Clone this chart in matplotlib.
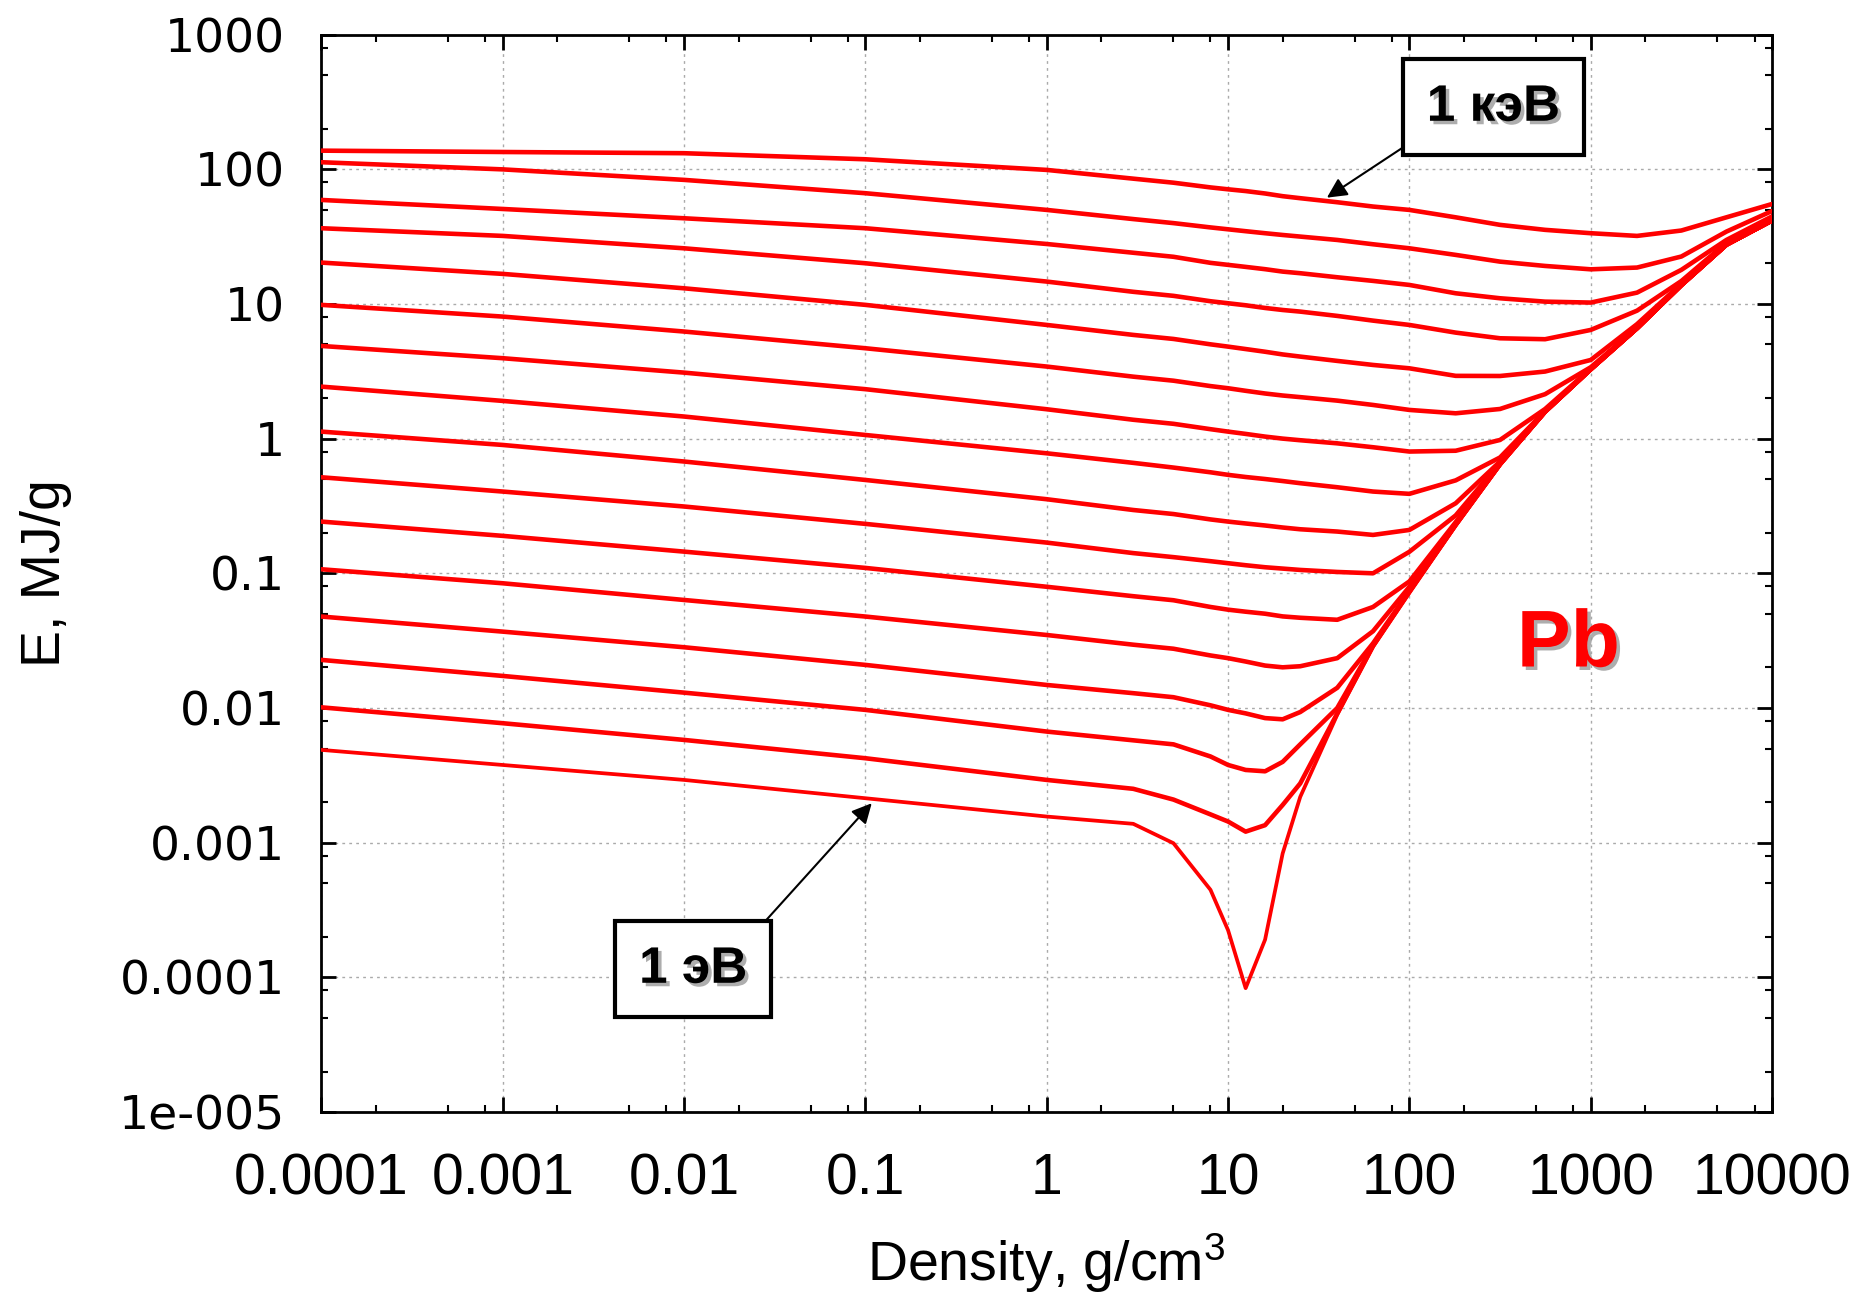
import numpy as np
import matplotlib
matplotlib.use("Agg")
import matplotlib.pyplot as plt
import matplotlib.ticker as mticker
import matplotlib.patheffects as pe

plt.rcParams['mathtext.fontset'] = 'custom'
plt.rcParams['mathtext.rm'] = 'Liberation Sans'
plt.rcParams['mathtext.it'] = 'Liberation Sans:italic'
plt.rcParams['mathtext.bf'] = 'Liberation Sans:bold'

# ---------------- data ----------------
# density grid, g/cm^3
density = [1e-4, 1e-3, 1e-2, 0.1, 1, 3, 5, 8, 10, 12.5, 16, 20, 25, 40, 63,
           100, 180, 316, 560, 1000, 1800, 3160, 5600, 1e4]

# log10 of specific energy E (MJ/g), one isotherm per list, top (1 keV) to bottom (1 eV)
logE_01 = [2.138, 2.128, 2.119, 2.074, 1.995, 1.93, 1.90, 1.865, 1.851, 1.838, 1.82, 1.80,
           1.785, 1.755, 1.723, 1.698, 1.643, 1.587, 1.55, 1.525, 1.505, 1.545, 1.643, 1.742]
logE_02 = [2.052, 1.999, 1.921, 1.822, 1.698, 1.63, 1.60, 1.568, 1.554, 1.54, 1.525, 1.512,
           1.50, 1.475, 1.443, 1.413, 1.364, 1.314, 1.282, 1.257, 1.27, 1.352, 1.537, 1.69]
logE_03 = [1.772, 1.705, 1.636, 1.562, 1.445, 1.38, 1.35, 1.305, 1.29, 1.275, 1.258, 1.24,
           1.228, 1.198, 1.171, 1.141, 1.079, 1.042, 1.017, 1.010, 1.084, 1.253, 1.475, 1.65]
logE_04 = [1.562, 1.505, 1.413, 1.302, 1.166, 1.09, 1.06, 1.02, 1.005, 0.99, 0.97, 0.955,
           0.943, 0.911, 0.876, 0.844, 0.787, 0.745, 0.738, 0.807, 0.95, 1.17, 1.455, 1.63]
logE_05 = [1.307, 1.223, 1.116, 0.993, 0.844, 0.77, 0.74, 0.70, 0.683, 0.665, 0.645, 0.625,
           0.609, 0.577, 0.547, 0.522, 0.466, 0.465, 0.498, 0.584, 0.85, 1.15, 1.445, 1.622]
logE_06 = [0.993, 0.906, 0.795, 0.671, 0.535, 0.46, 0.43, 0.39, 0.374, 0.355, 0.335, 0.32,
           0.308, 0.282, 0.25, 0.213, 0.188, 0.22, 0.33, 0.53, 0.825, 1.145, 1.443, 1.621]
logE_07 = [0.688, 0.597, 0.490, 0.367, 0.218, 0.14, 0.11, 0.07, 0.052, 0.035, 0.015, 0.0,
           -0.012, -0.035, -0.064, -0.096, -0.09, -0.01, 0.22, 0.52, 0.822, 1.142, 1.442, 1.62]
logE_08 = [0.386, 0.280, 0.164, 0.027, -0.109, -0.18, -0.215, -0.25, -0.269, -0.285, -0.30, -0.315,
           -0.331, -0.361, -0.393, -0.41, -0.31, -0.14, 0.205, 0.517, 0.821, 1.141, 1.441, 1.62]
logE_09 = [0.052, -0.047, -0.170, -0.307, -0.450, -0.53, -0.56, -0.60, -0.616, -0.63, -0.645, -0.66,
           -0.673, -0.69, -0.715, -0.678, -0.48, -0.17, 0.202, 0.516, 0.82, 1.14, 1.44, 1.62]
logE_10 = [-0.287, -0.393, -0.504, -0.633, -0.772, -0.85, -0.88, -0.91, -0.925, -0.94, -0.955, -0.965,
           -0.975, -0.99, -1.0, -0.84, -0.57, -0.18, 0.2, 0.515, 0.82, 1.14, 1.44, 1.62]
logE_11 = [-0.616, -0.722, -0.839, -0.96, -1.10, -1.17, -1.20, -1.25, -1.27, -1.285, -1.30, -1.32,
           -1.33, -1.345, -1.25, -1.06, -0.62, -0.185, 0.2, 0.515, 0.82, 1.14, 1.44, 1.62]
logE_12 = [-0.97, -1.074, -1.198, -1.321, -1.458, -1.53, -1.56, -1.61, -1.63, -1.655, -1.685, -1.698,
           -1.69, -1.63, -1.43, -1.10, -0.635, -0.19, 0.2, 0.515, 0.82, 1.14, 1.44, 1.62]
logE_13 = [-1.321, -1.433, -1.549, -1.680, -1.829, -1.89, -1.92, -1.98, -2.014, -2.04, -2.075, -2.084,
           -2.03, -1.85, -1.52, -1.13, -0.64, -0.19, 0.2, 0.515, 0.82, 1.14, 1.44, 1.62]
logE_14 = [-1.643, -1.762, -1.886, -2.014, -2.175, -2.24, -2.27, -2.36, -2.423, -2.46, -2.47, -2.40,
           -2.27, -2.0, -1.535, -1.135, -0.64, -0.19, 0.2, 0.515, 0.82, 1.14, 1.44, 1.62]
logE_15 = [-1.995, -2.113, -2.237, -2.373, -2.534, -2.60, -2.68, -2.79, -2.843, -2.918, -2.87, -2.72,
           -2.56, -2.04, -1.54, -1.14, -0.64, -0.19, 0.2, 0.515, 0.82, 1.14, 1.44, 1.62]
logE_16 = [-2.311, -2.423, -2.534, -2.670, -2.806, -2.86, -3.004, -3.35, -3.65, -4.08, -3.72, -3.08,
           -2.66, -2.05, -1.545, -1.14, -0.64, -0.19, 0.2, 0.515, 0.82, 1.14, 1.44, 1.62]

isotherms = [logE_01, logE_02, logE_03, logE_04, logE_05, logE_06, logE_07, logE_08,
             logE_09, logE_10, logE_11, logE_12, logE_13, logE_14, logE_15, logE_16]

x_ticks = [1e-4, 1e-3, 1e-2, 0.1, 1, 10, 100, 1000, 1e4]
x_tick_labels = ['0.0001', '0.001', '0.01', '0.1', '1', '10', '100', '1000', '10000']
y_ticks = [1e-5, 1e-4, 1e-3, 1e-2, 0.1, 1, 10, 100, 1000]
y_tick_labels = ['1e-005', '0.0001', '0.001', '0.01', '0.1', '1', '10', '100', '1000']

# ---------------- figure ----------------
fig = plt.figure(figsize=(18.63, 12.94), dpi=100)
ax = fig.add_axes([0.1725, 0.1406, 0.7787, 0.8327])

for i, le in enumerate(isotherms):
    ax.plot(density, 10 ** np.array(le), color='#ff0000',
            lw=3.3 if i < len(isotherms) - 1 else 2.7,
            solid_joinstyle='round', solid_capstyle='round', zorder=3)

ax.set_xscale('log')
ax.set_yscale('log')
ax.set_xlim(1e-4, 1e4)
ax.set_ylim(1e-5, 1e3)

ax.xaxis.set_major_locator(mticker.FixedLocator(x_ticks))
ax.yaxis.set_major_locator(mticker.FixedLocator(y_ticks))
ax.xaxis.set_minor_locator(mticker.LogLocator(base=10, subs=[2, 5, 8], numticks=50))
ax.yaxis.set_minor_locator(mticker.LogLocator(base=10, subs=[2, 5, 8], numticks=50))
ax.xaxis.set_minor_formatter(mticker.NullFormatter())
ax.yaxis.set_minor_formatter(mticker.NullFormatter())
ax.set_xticklabels(x_tick_labels, fontsize=41, family='Liberation Sans')
ax.set_yticklabels(y_tick_labels, fontsize=34, family='DejaVu Sans')

ax.tick_params(which='both', direction='in', top=True, right=True)
ax.tick_params(which='major', length=11, width=2)
ax.tick_params(which='minor', length=5, width=1.5)
ax.tick_params(axis='x', which='major', pad=29)
ax.tick_params(axis='y', which='major', pad=26)
for s in ax.spines.values():
    s.set_linewidth(2)

ax.grid(True, which='major', color='#aaaaaa', linestyle=(0, (2, 3)), linewidth=1.0, zorder=0)

ax.set_xlabel('Density, g/cm$^3$', fontsize=40, family='Liberation Sans')
ax.set_ylabel('E, MJ/g', fontsize=40, family='Liberation Sans')
ax.xaxis.set_label_coords(0.5, -0.111)
ax.yaxis.set_label_coords(-0.172, 0.5)

shadow = [pe.withSimplePatchShadow(offset=(2.5, -2.5), shadow_rgbFace='#999999', alpha=0.8)]

ax.annotate('1 кэВ', xy=(10 ** 1.545, 10 ** 1.789), xytext=(10 ** 2.463, 10 ** 2.46),
            ha='center', va='center', fontsize=37, fontweight='bold', family='Liberation Sans',
            path_effects=shadow, zorder=5,
            bbox=dict(boxstyle='square,pad=0.46', fc='white', ec='black', lw=3),
            arrowprops=dict(arrowstyle='-|>', color='black', lw=1.5, mutation_scale=30,
                            relpos=(0, 0), shrinkA=0, shrinkB=0))

ax.annotate('1 эВ', xy=(10 ** -0.965, 10 ** -2.707), xytext=(10 ** -1.95, 10 ** -3.94),
            ha='center', va='center', fontsize=37, fontweight='bold', family='Liberation Sans',
            path_effects=shadow, zorder=5,
            bbox=dict(boxstyle='square,pad=0.46', fc='white', ec='black', lw=3),
            arrowprops=dict(arrowstyle='-|>', color='black', lw=1.5, mutation_scale=30,
                            relpos=(0.97, 1), shrinkA=0, shrinkB=0))

ax.text(10 ** 2.593, 10 ** -1.692, 'Pb', color='#ff0000', fontsize=58, fontweight='bold',
        family='Liberation Sans', ha='left', va='baseline', path_effects=shadow, zorder=5)

fig.savefig('out.png', dpi=100)
